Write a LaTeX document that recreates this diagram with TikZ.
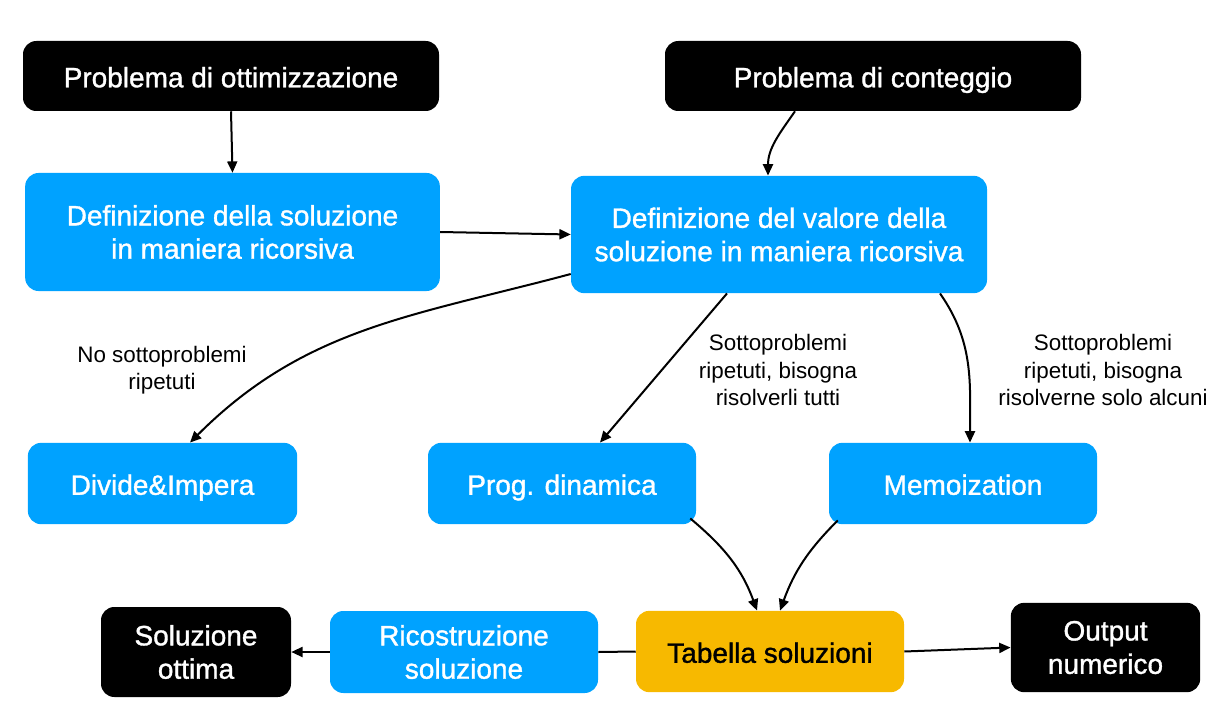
\documentclass[tikz,border=0pt]{standalone}
\usepackage{fontspec}
\setmainfont{Liberation Sans}
\newfontfamily\medfont[FakeBold=1.2]{Liberation Sans}
\usetikzlibrary{calc,arrows.meta}
\definecolor{myblue}{HTML}{00A2FF}
\definecolor{myorange}{HTML}{F7B900}
\newcommand\boxstrut{\rule[-4.6pt]{0pt}{26.1pt}}
\tikzset{
  box/.style={rounded corners=10pt, inner sep=0pt, align=center, font=\medfont\fontsize{21}{25}\selectfont},
  oneline/.style={execute at begin node=\boxstrut, execute at end node=\boxstrut},
  blackbox/.style={box, fill=black, text=white},
  bluebox/.style={box, fill=myblue, text=white},
  orangebox/.style={box, fill=myorange, text=black},
  lbl/.style={align=center, font=\fontsize{16.8}{20.5}\selectfont},
  arr/.style={line width=1.5pt, -{Triangle[length=8.5pt,width=7.5pt]}},
  ln/.style={line width=1.5pt}
}
\begin{document}
\begin{tikzpicture}[x=0.75pt,y=0.75pt]
\useasboundingbox (0,0) rectangle (1226,715);
\node[blackbox, oneline, minimum width=312pt, minimum height=52.5pt] (opt) at (231,639) {Problema di ottimizzazione};
\node[blackbox, oneline, minimum width=312pt, minimum height=52.5pt] (cont) at (873,639) {Problema di conteggio};
\node[bluebox, minimum width=311pt, minimum height=88.5pt] (defsol) at (232.5,483) {Definizione della soluzione\\in maniera ricorsiva};
\node[bluebox, minimum width=312pt, minimum height=88pt] (defval) at (779,480.5) {Definizione del valore della\\soluzione in maniera ricorsiva};
\node[bluebox, oneline, minimum width=202pt, minimum height=61pt] (di) at (162.5,231.5) {Divide\&Impera};
\node[bluebox, oneline, minimum width=201pt, minimum height=61pt] (pd) at (562,231.5) {Prog. dinamica};
\node[bluebox, oneline, minimum width=201pt, minimum height=61pt] (memo) at (963,231.5) {Memoization};
\node[blackbox, minimum width=142.5pt, minimum height=67.5pt] (solott) at (196,63) {Soluzione\\ottima};
\node[bluebox, minimum width=201pt, minimum height=61.5pt] (ric) at (464,63) {Ricostruzione\\soluzione};
\node[orangebox, oneline, minimum width=201pt, minimum height=61pt] (tab) at (770,63.5) {Tabella soluzioni};
\node[blackbox, minimum width=142pt, minimum height=67pt] (out) at (1105.5,67.5) {Output\\numerico};

\node[lbl] (l1) at (162,345) {No sottoproblemi\\ripetuti};
\node[lbl] (l2) at (778,345) {Sottoproblemi\\ripetuti, bisogna\\risolverli tutti};
\node[lbl] (l3) at (1103,345) {Sottoproblemi\\ripetuti, bisogna\\risolverne solo alcuni};

\draw[arr] (opt.south) -- (defsol.north);
\draw[arr] ($(cont.south)+(-78,0)$) to[out=-125,in=90] ($(defval.north)+(-11,0)$);
\draw[arr] (defsol.east) -- (defval.west);
\draw[arr] ($(defval.west)+(0,-39.5)$) to[out=195,in=45] ($(di.north)+(27.5,0)$);
\draw[arr] ($(defval.south)+(-52,0)$) -- ($(pd.north)+(38,0)$);
\draw[arr] ($(defval.south)+(161,0)$) to[out=-55,in=90] ($(memo.north)+(7,0)$);
\draw[arr] ($(pd.south east)+(-6,6)$) to[out=-40,in=110] ($(tab.north)+(-13,0)$);
\draw[arr] ($(memo.south west)+(9,4)$) to[out=-135,in=70] ($(tab.north)+(10,0)$);
\draw[ln] (tab.west) -- (ric.east);
\draw[arr] (ric.west) -- (solott.east);
\draw[arr] (tab.east) -- (out.west);
\end{tikzpicture}
\end{document}
